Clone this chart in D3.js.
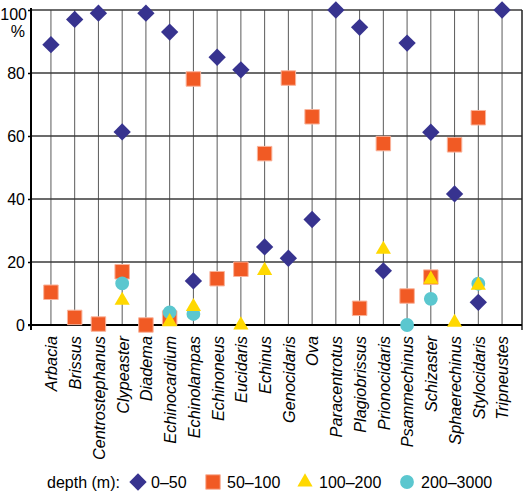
<!DOCTYPE html>
<html>
<head>
<meta charset="utf-8">
<script src="https://cdn.jsdelivr.net/npm/d3@7"></script>
<style>
  html, body { margin: 0; padding: 0; background: #fff; }
  svg { display: block; font-family: "Liberation Sans", Arial, Helvetica, sans-serif; }
</style>
</head>
<body>
<svg id="chart" width="526" height="492"></svg>
<script>
const categories = ["Arbacia","Brissus","Centrostephanus","Clypeaster","Diadema","Echinocardium","Echinolampas","Echinoneus","Eucidaris","Echinus","Genocidaris","Ova","Paracentrotus","Plagiobrissus","Prionocidaris","Psammechinus","Schizaster","Sphaerechinus","Stylocidaris","Tripneustes"];
const depth0_50    = [89, 97, 99, 61.3, 99, 93, 14, 85, 81, 24.8, 21.2, 33.5, 100, 94.5, 17.2, 89.5, 61.2, 41.6, 7.2, 100];
const depth50_100  = [10.4, 2.4, 0.3, 16.9, 0, 2.2, 78.1, 14.7, 17.7, 54.4, 78.4, 66.1, null, 5.3, 57.6, 9.2, 15.2, 57.2, 65.8, null];
const depth100_200 = [null, null, null, 7.8, null, 1, 5.8, null, 0, 17.3, null, null, null, null, 24, null, 14.5, 0.8, 12.6, null];
const depth200_3000= [null, null, null, 13.2, null, 4.0, 3.5, null, null, null, null, null, null, null, null, 0, 8.3, null, 13.1, null];
const yTicks = [0, 20, 40, 60, 80, 100];
const seriesNames = ["0–50", "50–100", "100–200", "200–3000"];
const legendTitle = "depth (m):";

const svg = d3.select("#chart");
const pLeft = 31, pRight = 522, pTop = 10, pBottom = 325;

const x = d3.scalePoint().domain(categories).range([pLeft, pRight]).padding(0.84);
const y = d3.scaleLinear().domain([0, 100]).range([pBottom, pTop]);

// vertical gridlines
svg.append("g").selectAll("line").data(categories).join("line")
  .attr("x1", d => x(d)).attr("x2", d => x(d))
  .attr("y1", pTop).attr("y2", pBottom)
  .attr("stroke", "#5a5a5a").attr("stroke-width", 1);

// horizontal gridlines
svg.append("g").selectAll("line").data(yTicks.filter(t => t > 0)).join("line")
  .attr("x1", pLeft).attr("x2", pRight)
  .attr("y1", d => y(d)).attr("y2", d => y(d))
  .attr("stroke", "#3a3a3a").attr("stroke-width", 1.3);

// right border
svg.append("line").attr("x1", pRight).attr("x2", pRight).attr("y1", pTop).attr("y2", pBottom + 5)
  .attr("stroke", "#222").attr("stroke-width", 1.5);

// y axis
const yAxis = svg.append("g").attr("transform", `translate(${pLeft},0)`)
  .call(d3.axisLeft(y).tickValues(yTicks).tickSize(3).tickPadding(3).tickFormat(d3.format("d")));
yAxis.select(".domain").remove();
yAxis.selectAll(".tick line").attr("stroke", "#000").attr("stroke-width", 1.5);
yAxis.selectAll(".tick text").attr("font-size", 16).attr("fill", "#000")
  .attr("font-family", "Liberation Sans, Arial, sans-serif")
  .attr("x", d => d === 100 ? -4 : -6)
  .attr("dy", d => d === 100 ? "0.58em" : "0.35em");
yAxis.append("text").attr("x", -6).attr("y", y(100) + 21).attr("dy", "0.35em")
  .attr("text-anchor", "end").attr("font-size", 16).attr("fill", "#000").text("%");
svg.append("line").attr("x1", pLeft).attr("x2", pLeft).attr("y1", pTop - 2).attr("y2", pBottom + 5)
  .attr("stroke", "#000").attr("stroke-width", 2);

// x axis
const xAxis = svg.append("g").attr("transform", `translate(0,${pBottom})`)
  .call(d3.axisBottom(x).tickSize(0));
xAxis.select(".domain").remove();
xAxis.selectAll(".tick text")
  .attr("font-size", 16.3).attr("font-style", "italic").attr("fill", "#000")
  .attr("font-family", "Liberation Sans, Arial, sans-serif")
  .attr("text-anchor", "end")
  .attr("transform", "rotate(-90)")
  .attr("x", -11).attr("y", 0).attr("dy", "0.36em");
svg.append("line").attr("x1", pLeft - 3).attr("x2", pRight).attr("y1", pBottom).attr("y2", pBottom)
  .attr("stroke", "#000").attr("stroke-width", 2.2);

// markers
const colors = ["#37338f", "#f15a24", "#ffd800", "#5bc7cf"];
const diamondPath = d3.symbol().type(d3.symbolSquare).size(150)();
const squarePath = d3.symbol().type(d3.symbolSquare).size(210)();
const trianglePath = d3.symbol().type(d3.symbolTriangle).size(100)();
const circlePath = d3.symbol().type(d3.symbolCircle).size(150)();

function plotSeries(values, path, color, extra) {
  const pts = categories.map((c, i) => ({c, v: values[i]})).filter(d => d.v !== null);
  return svg.append("g").selectAll("path").data(pts).join("path")
    .attr("d", path).attr("fill", color)
    .attr("transform", d => `translate(${x(d.c)},${y(d.v)})${extra || ""}`);
}
plotSeries(depth0_50, diamondPath, colors[0], " rotate(45)");
plotSeries(depth50_100, squarePath, colors[1]).attr("stroke", "#f9b49c").attr("stroke-width", 1);
plotSeries(depth200_3000, circlePath, colors[3]);
plotSeries(depth100_200, trianglePath, colors[2]);

// legend
const ly = 482;
const lg = svg.append("g");
lg.append("text").attr("x", 47).attr("y", ly).attr("dy", "0.35em").attr("font-size", 16).attr("fill", "#000").text(legendTitle);
const legendItems = [
  {sx: 138, tx: 151, path: diamondPath, extra: " rotate(45)"},
  {sx: 213, tx: 227, path: squarePath, extra: ""},
  {sx: 305, tx: 319, path: trianglePath, extra: ""},
  {sx: 407, tx: 421, path: circlePath, extra: ""}
];
legendItems.forEach((it, i) => {
  const p = lg.append("path").attr("d", it.path).attr("fill", colors[i])
    .attr("transform", `translate(${it.sx},${ly})${it.extra}`);
  if (i === 1) p.attr("stroke", "#f9b49c").attr("stroke-width", 1);
  lg.append("text").attr("x", it.tx).attr("y", ly).attr("dy", "0.35em")
    .attr("font-size", 16).attr("fill", "#000").text(seriesNames[i]);
});
</script>
</body>
</html>
